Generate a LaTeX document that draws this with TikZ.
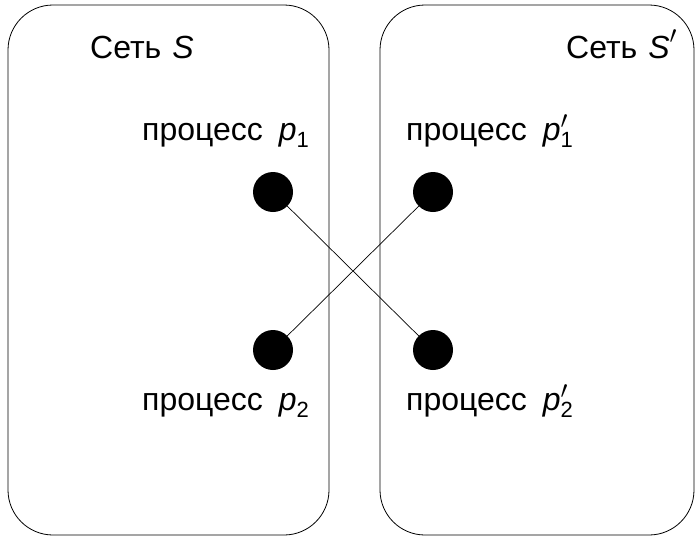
\documentclass[tikz,border=0pt]{standalone}
\usepackage{fontspec}
\setmainfont{Liberation Sans}
\newcommand\subnum[1]{\raisebox{-7pt}{\fontsize{22}{22}\selectfont #1}}
\newcommand\pvar[1]{\textit{p}\subnum{#1}}
\newcommand\ppvar[1]{\textit{p}\rlap{\raisebox{12pt}{\fontsize{32}{36}\selectfont$\prime$}}\subnum{#1}}
\newcommand\bigprime{\raisebox{15pt}{\fontsize{36}{40}\selectfont$\prime$}}
\begin{document}
\begin{tikzpicture}[x=1pt,y=-1pt,
  box/.style={draw, line width=0.8pt, rounded corners=45pt},
  dot/.style={circle, fill, inner sep=0pt, minimum size=40pt},
  lbl/.style={font=\fontsize{32}{38}\selectfont, inner sep=0pt, anchor=base west},
  link/.style={line width=0.7pt}]
\useasboundingbox (0,0) rectangle (695,538);
\draw[box] (8,5) rectangle (329,535);
\draw[box] (380,5) rectangle (694,535);
\node[lbl] (netS) at (90,58) {Сеть\hspace{11pt}\textit{S}};
\node[lbl] (netSp) at (566,58) {Сеть\hspace{11pt}\textit{S}\bigprime};
\node[lbl] (lp1) at (142,140) {процесс\hspace{16pt}\pvar{1}};
\node[lbl] (lq1) at (406,140) {процесс\hspace{16pt}\ppvar{1}};
\node[lbl] (lp2) at (142,410) {процесс\hspace{16pt}\pvar{2}};
\node[lbl] (lq2) at (406,410) {процесс\hspace{16pt}\ppvar{2}};
\coordinate (c1) at (273,192);
\coordinate (c2) at (433,192);
\coordinate (c3) at (273,350);
\coordinate (c4) at (433,350);
\draw[link] (c1) -- (c4);
\draw[link] (c2) -- (c3);
\node[dot] (p1) at (c1) {};
\node[dot] (q1) at (c2) {};
\node[dot] (p2) at (c3) {};
\node[dot] (q2) at (c4) {};
\end{tikzpicture}
\end{document}
